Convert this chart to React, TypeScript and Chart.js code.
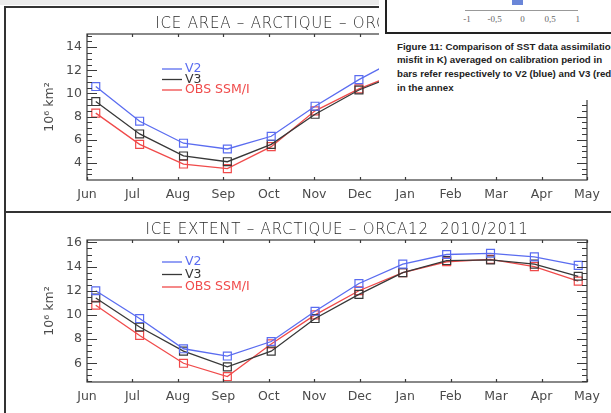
import React, { useEffect, useRef } from "react";
import { Chart, registerables } from "chart.js";

Chart.register(...registerables);

// ---------- data ----------
const months = ["Jun", "Jul", "Aug", "Sep", "Oct", "Nov", "Dec", "Jan", "Feb", "Mar", "Apr", "May"];
const seriesNames = ["V2", "V3", "OBS SSM/I"];

const areaV2 = [10.6, 7.6, 5.7, 5.2, 6.3, 8.9, 11.2, 13.2, 14.2, 14.5, 14.1, 12.6];
const areaV3 = [9.3, 6.5, 4.6, 4.1, 5.6, 8.2, 10.3, 11.8, 13.2, 13.5, 13.1, 11.6];
const areaObs = [8.3, 5.6, 3.9, 3.5, 5.4, 8.5, 10.4, 11.9, 13.0, 13.3, 12.8, 11.3];

const extentV2 = [12.0, 9.7, 7.2, 6.6, 7.8, 10.3, 12.6, 14.2, 15.0, 15.1, 14.8, 14.1];
const extentV3 = [11.4, 9.0, 7.0, 5.7, 7.0, 9.7, 11.7, 13.5, 14.5, 14.55, 14.2, 13.2];
const extentObs = [10.8, 8.3, 6.0, 4.9, 7.6, 10.0, 12.0, 13.5, 14.4, 14.6, 14.0, 12.8];

const areaYTicks = [4, 6, 8, 10, 12, 14];
const extentYTicks = [6, 8, 10, 12, 14, 16];
const areaYRange = [2.52, 15.14];
const extentYRange = [4.45, 16.2];
const xRange = [-0.2, 11.2];

const areaTitle = "ICE AREA \u2013 ARCTIQUE \u2013 ORCA12  2010/2011";
const extentTitle = "ICE EXTENT \u2013 ARCTIQUE \u2013 ORCA12  2010/2011";
const yUnit = "10\u2076 km\u00b2";

const sideLabels = ["-1", "-0,5", "0", "0,5", "1"];
const captionLines = [
  "Figure 11: Comparison of SST data assimilation",
  "misfit in K) averaged on calibration period in",
  "bars refer respectively to V2 (blue) and V3 (red)",
  "in the annex",
];

// ---------- styles ----------
const COLORS = ["#5a6cf0", "#383838", "#f04a4a"];
const AXIS_COLOR = "#3a3a3a";
const TEXT_COLOR = "#4a4a4a";
const FONT_FAMILY = "'DejaVu Sans', sans-serif";

const idlAxesPlugin = {
  id: "idlAxes",
  afterDatasetsDraw(chart: any, _args: any, opts: any) {
    const { ctx, chartArea: a, scales } = chart;
    const x = scales.x;
    const y = scales.y;
    ctx.save();
    ctx.strokeStyle = opts.color;
    ctx.lineWidth = opts.lineWidth;
    ctx.strokeRect(a.left, a.top, a.right - a.left, a.bottom - a.top);
    ctx.beginPath();
    const majors = y.ticks.map((t: any) => t.value);
    majors.forEach((v: number) => {
      const py = Math.round(y.getPixelForValue(v)) + 0.5;
      ctx.moveTo(a.left, py);
      ctx.lineTo(a.left + opts.yMajor, py);
      ctx.moveTo(a.right, py);
      ctx.lineTo(a.right - opts.yMajor, py);
    });
    const step = opts.yMinorStep;
    for (let v = Math.ceil(y.min / step) * step; v <= y.max + 1e-9; v += step) {
      if (majors.some((m: number) => Math.abs(m - v) < 1e-6)) continue;
      const py = Math.round(y.getPixelForValue(v)) + 0.5;
      ctx.moveTo(a.left, py);
      ctx.lineTo(a.left + opts.yMinor, py);
      ctx.moveTo(a.right, py);
      ctx.lineTo(a.right - opts.yMinor, py);
    }
    x.ticks.forEach((t: any) => {
      const px = Math.round(x.getPixelForValue(t.value)) + 0.5;
      ctx.moveTo(px, a.bottom);
      ctx.lineTo(px, a.bottom - opts.xMajor);
      ctx.moveTo(px, a.top);
      ctx.lineTo(px, a.top + opts.xMajor);
    });
    ctx.stroke();
    ctx.restore();
  },
};

const idlLegendPlugin = {
  id: "idlLegend",
  afterDatasetsDraw(chart: any, _args: any, opts: any) {
    const { ctx, chartArea: a } = chart;
    ctx.save();
    ctx.font = opts.font;
    ctx.textBaseline = "middle";
    ctx.textAlign = "left";
    chart.data.datasets.forEach((ds: any, i: number) => {
      const yy = a.top + opts.dy + i * opts.step;
      const xx = a.left + opts.dx;
      ctx.strokeStyle = ds.borderColor;
      ctx.lineWidth = 1.3;
      ctx.beginPath();
      ctx.moveTo(xx, yy);
      ctx.lineTo(xx + opts.lineLen, yy);
      ctx.stroke();
      ctx.fillStyle = ds.borderColor;
      ctx.fillText(ds.label, xx + opts.lineLen + opts.gap, yy);
    });
    ctx.restore();
  },
};

type PanelProps = {
  series: number[][];
  yTicks: number[];
  yRange: number[];
  height: number;
  padTop: number;
  xAxisHeight: number;
  legend: { dx: number; dy: number; step: number };
};

function Panel({ series, yTicks, yRange, height, padTop, xAxisHeight, legend }: PanelProps) {
  const ref = useRef<HTMLCanvasElement | null>(null);
  useEffect(() => {
    if (!ref.current) return;
    const tickFont = { family: FONT_FAMILY, size: 12.5 };
    const chart = new Chart(ref.current, {
      type: "line",
      data: {
        datasets: series.map((arr, i) => ({
          label: seriesNames[i],
          data: arr.map((v, k) => ({ x: k, y: v })),
          borderColor: COLORS[i],
          borderWidth: 1.3,
          pointStyle: "rect",
          pointRadius: 5.6,
          pointBorderWidth: 1.2,
          pointBorderColor: COLORS[i],
          pointBackgroundColor: "rgba(0,0,0,0)",
          tension: 0,
        })),
      },
      options: {
        animation: false,
        responsive: false,
        devicePixelRatio: 1,
        layout: { padding: { left: 0, right: 24, top: padTop, bottom: 0 } },
        plugins: {
          legend: { display: false },
          tooltip: { enabled: false },
          idlAxes: { color: AXIS_COLOR, lineWidth: 1.2, yMajor: 10, yMinor: 5, xMajor: 3, yMinorStep: 0.5 },
          idlLegend: { ...legend, lineLen: 20, gap: 3, font: `12.5px ${FONT_FAMILY}` },
        } as any,
        scales: {
          x: {
            type: "linear",
            min: xRange[0],
            max: xRange[1],
            afterBuildTicks: (s: any) => {
              const n = months.length - 1;
              s.ticks = months.map((_m, i) => ({ value: s.min + (i * (s.max - s.min)) / n }));
            },
            afterFit: (s: any) => {
              s.height = xAxisHeight;
            },
            ticks: {
              autoSkip: false,
              maxRotation: 0,
              padding: 7,
              color: TEXT_COLOR,
              font: tickFont,
              callback: (_v: any, i: number) => months[i],
            },
            grid: { display: false, drawTicks: false },
            border: { display: false },
          },
          y: {
            type: "linear",
            min: yRange[0],
            max: yRange[1],
            afterBuildTicks: (s: any) => {
              s.ticks = yTicks.map((v) => ({ value: v }));
            },
            afterFit: (s: any) => {
              s.width = 87;
            },
            ticks: { padding: 5, color: TEXT_COLOR, font: tickFont },
            grid: { display: false, drawTicks: false },
            border: { display: false },
            title: {
              display: true,
              text: yUnit,
              color: TEXT_COLOR,
              font: { family: FONT_FAMILY, size: 12.5 },
              padding: { top: 42, bottom: 0 },
            },
          },
        },
      } as any,
      plugins: [idlAxesPlugin, idlLegendPlugin],
    });
    return () => chart.destroy();
  }, []);
  return <canvas ref={ref} width={611} height={height} style={{ display: "block", width: 611, height }} />;
}

const abs = (l: number, t: number, w: number, h: number, extra: React.CSSProperties = {}): React.CSSProperties => ({
  position: "absolute",
  left: l,
  top: t,
  width: w,
  height: h,
  ...extra,
});

export default function App() {
  const titleStyle: React.CSSProperties = {
    position: "absolute",
    left: 87,
    width: 500,
    textAlign: "center",
    fontFamily: FONT_FAMILY,
    fontSize: 15,
    fontWeight: 300,
    letterSpacing: "0.8px",
    lineHeight: "18px",
    color: "#2a2a2a",
    whiteSpace: "pre",
    zIndex: 2,
  };
  return (
    <div style={{ position: "fixed", left: 0, top: 0, width: 611, height: 413, overflow: "hidden", background: "#fff" }}>
      {/* top chart */}
      <div style={abs(0, 0, 611, 212)}>
        <Panel
          series={[areaV2, areaV3, areaObs]}
          yTicks={areaYTicks}
          yRange={areaYRange}
          height={212}
          padTop={34}
          xAxisHeight={32}
          legend={{ dx: 75, dy: 35, step: 10.5 }}
        />
      </div>
      <div style={{ ...titleStyle, top: 14 }}>{areaTitle}</div>

      {/* bottom chart */}
      <div style={abs(0, 212, 611, 201)}>
        <Panel
          series={[extentV2, extentV3, extentObs]}
          yTicks={extentYTicks}
          yRange={extentYRange}
          height={201}
          padTop={28}
          xAxisHeight={31}
          legend={{ dx: 75, dy: 22, step: 12.5 }}
        />
      </div>
      <div style={{ ...titleStyle, top: 220 }}>{extentTitle}</div>

      {/* page frame */}
      <div style={abs(0, 0, 379, 5, { background: "#ebebeb", zIndex: 3 })} />
      <div style={abs(4, 6, 375, 2, { background: "#333", zIndex: 3 })} />
      <div style={abs(4, 6, 2, 407, { background: "#333", zIndex: 3 })} />
      <div style={abs(4, 211, 607, 2, { background: "#333", zIndex: 3 })} />

      {/* overlapping figure from the page */}
      <div style={abs(379, 0, 232, 100, { background: "#fff", zIndex: 5, overflow: "hidden" })}>
        <div style={abs(6, 0, 2, 34, { background: "#222" })} />
        <div style={abs(6, 32, 226, 2, { background: "#222" })} />
        <div style={abs(86, 10, 113, 1, { background: "#999" })} />
        <div style={abs(133, 0, 11, 5, { background: "#6a86d8" })} />
        {sideLabels.map((t, i) => (
          <div
            key={t}
            style={{
              position: "absolute",
              left: 88 + i * 27.7 - 15,
              top: 14,
              width: 30,
              textAlign: "center",
              fontFamily: "'Liberation Serif', serif",
              fontSize: 9,
              lineHeight: "10px",
              color: "#666",
            }}
          >
            {t}
          </div>
        ))}
        {captionLines.map((t, i) => (
          <div
            key={i}
            style={{
              position: "absolute",
              left: 18,
              top: 40.5 + i * 13.7,
              whiteSpace: "nowrap",
              fontFamily: "'Liberation Sans', sans-serif",
              fontWeight: "bold",
              fontSize: 9.7,
              lineHeight: "12px",
              color: "#222",
            }}
          >
            {t}
          </div>
        ))}
      </div>
    </div>
  );
}
